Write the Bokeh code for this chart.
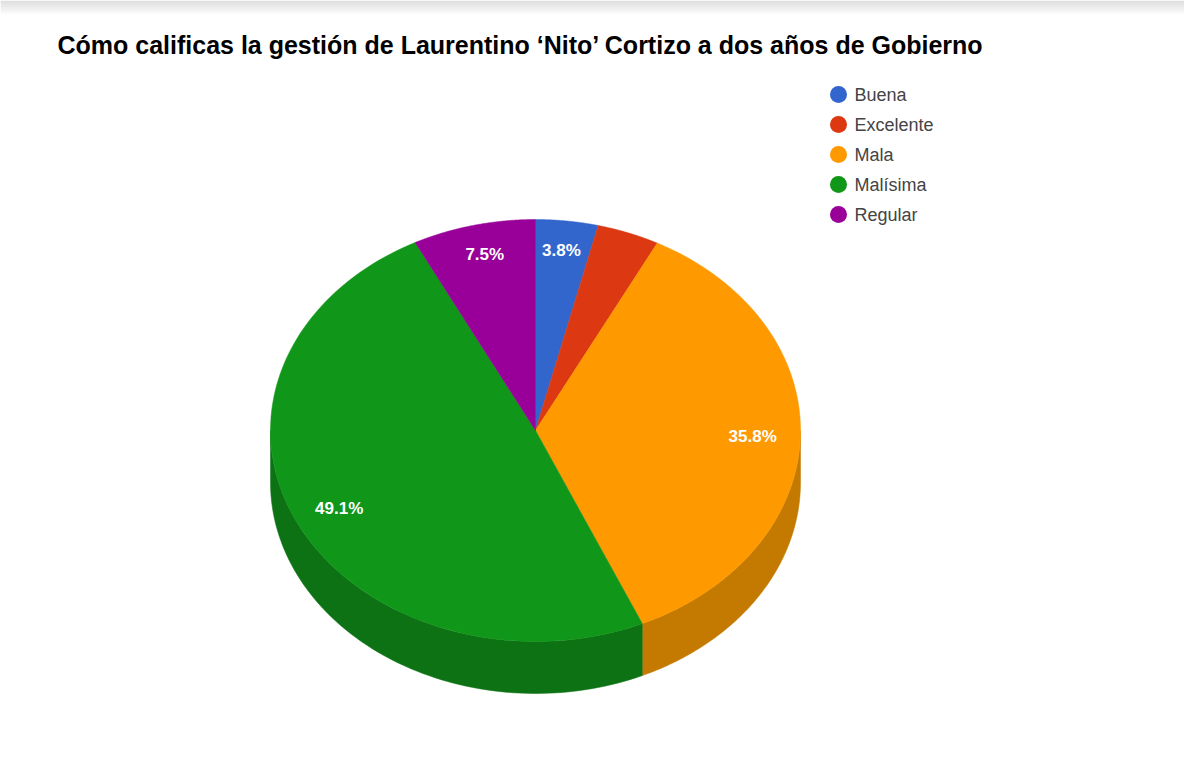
import numpy as np
from bokeh.plotting import figure
from bokeh.models import Range1d
from bokeh.core.properties import value
from bokeh.embed import file_html
from bokeh.resources import INLINE

# ---- data ----
categories = ["Buena", "Excelente", "Mala", "Malísima", "Regular"]
percentages = [3.8, 3.8, 35.8, 49.1, 7.5]
slice_labels = ["3.8%", "", "35.8%", "49.1%", "7.5%"]
top_colors = ["#3366cc", "#dc3912", "#ff9900", "#109618", "#990099"]
side_colors = ["#274e9c", "#a82b0d", "#c47a00", "#0c7214", "#740074"]
title_text = "Cómo calificas la gestión de Laurentino ‘Nito’ Cortizo a dos años de Gobierno"

W, H = 1184, 768
p = figure(width=W, height=H, output_backend="svg", toolbar_location=None,
           x_range=Range1d(8, 8 + W), y_range=Range1d(8 + H, 8),
           min_border=0, outline_line_color=None)
p.axis.visible = False
p.grid.visible = False
p.background_fill_color = "white"

# subtle top shade (screenshot chrome)
for i in range(14):
    p.quad(left=8, right=8 + W, top=8 + i * 1.0, bottom=8 + (i + 1) * 1.0,
           fill_color="#a8a8a8", fill_alpha=0.4 * (1 - i / 14), line_color=None)

cx, cy, rx, ry, depth = 543.0, 438.0, 265.0, 211.0, 52.0

vals = np.array(percentages)
cum = np.concatenate([[0], np.cumsum(vals)]) / vals.sum() * 360.0

def pt(theta_deg, dy=0.0):
    t = np.radians(theta_deg)
    return cx + rx * np.sin(t), cy - ry * np.cos(t) + dy

# side walls (front half: 90..270 degrees clockwise from top)
for i in range(len(vals)):
    a, b = max(cum[i], 90.0), min(cum[i + 1], 270.0)
    if b <= a:
        continue
    th = np.linspace(a, b, 80)
    xt, yt = pt(th)
    xb, yb = pt(th[::-1], depth)
    p.patch(np.concatenate([xt, xb]), np.concatenate([yt, yb]),
            fill_color=side_colors[i], line_color=side_colors[i], line_width=0.5)

# top slices
for i in range(len(vals)):
    th = np.linspace(cum[i], cum[i + 1], 120)
    xt, yt = pt(th)
    p.patch(np.concatenate([[cx], xt]), np.concatenate([[cy], yt]),
            fill_color=top_colors[i], line_color=top_colors[i], line_width=0.5)

# slice labels
mid = (cum[:-1] + cum[1:]) / 2
fx, fy = 0.82, 0.86
lx = cx + rx * fx * np.sin(np.radians(mid))
ly = cy - ry * fy * np.cos(np.radians(mid))
p.text(x=list(lx), y=list(ly), text=slice_labels, text_color="white",
       text_font=value("Liberation Sans"), text_font_style="bold", text_font_size="17px",
       text_align="center", text_baseline="middle")

# legend
n = len(categories)
leg_y = [102 + 30 * i for i in range(n)]
p.scatter(x=[846] * n, y=leg_y, size=17, marker="circle", fill_color=top_colors, line_color=None)
p.text(x=[862] * n, y=leg_y, text=categories, text_color="#444444",
       text_font=value("Liberation Sans"), text_font_size="18px",
       text_align="left", text_baseline="middle")

# title
p.text(x=[65], y=[52], text=[title_text], text_color="#000000",
       text_font=value("Liberation Sans"), text_font_style="bold",
       text_font_size="25px", text_align="left", text_baseline="alphabetic")

open("out.html", "w").write(file_html(p, INLINE))
